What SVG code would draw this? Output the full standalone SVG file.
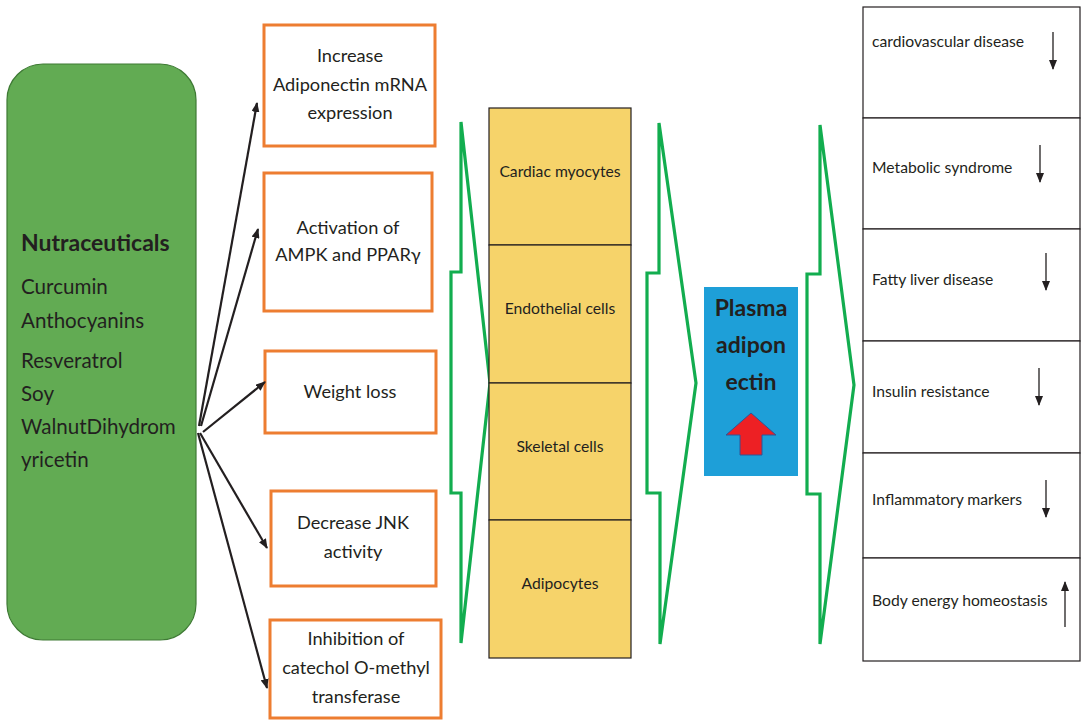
<svg xmlns="http://www.w3.org/2000/svg" width="1081" height="720" viewBox="0 0 1081 720">
<defs>
<style>
text{font-family:Lato,"Open Sans","Liberation Sans",sans-serif;fill:#231F20}
.ob{fill:#fff;stroke:#ED7D31;stroke-width:3}
.ot{font-size:18.2px;text-anchor:middle}
.yc{fill:#F6D36A;stroke:#231F20;stroke-width:1.2}
.yt{font-size:15.7px;text-anchor:middle}
.chev{fill:none;stroke:#12AD4F;stroke-width:3.2;stroke-linejoin:miter}
.tb{fill:#fff;stroke:#231F20;stroke-width:1.2}
.tt{font-size:15.7px}
.conn{stroke:#231F20;stroke-width:2.2;fill:none}
.sa{stroke:#231F20;stroke-width:1.3;fill:none}
.gt{font-size:20.6px}
.pt{font-size:23px;font-weight:bold;text-anchor:middle}
</style>
<marker id="ah" viewBox="0 0 10 8" refX="9" refY="4" markerWidth="10" markerHeight="8" markerUnits="userSpaceOnUse" orient="auto">
<path d="M0,0 L10,4 L0,8 Z" fill="#231F20"/>
</marker>
<marker id="sa" viewBox="0 0 10 8" refX="9" refY="4" markerWidth="10" markerHeight="8" markerUnits="userSpaceOnUse" orient="auto">
<path d="M0,0 L10,4 L0,8 Z" fill="#231F20"/>
</marker>
</defs>
<rect width="1081" height="720" fill="#fff"/>

<g id="nutraceuticals">
<rect x="7" y="64" width="189" height="576" rx="36" ry="36" fill="#62AB53" stroke="#3E7A34" stroke-width="1.2"/>
<text x="21" y="251" font-size="23" font-weight="bold">Nutraceuticals</text>
<text class="gt" x="21" y="294">Curcumin</text>
<text class="gt" x="21" y="328">Anthocyanins</text>
<text class="gt" x="21" y="368">Resveratrol</text>
<text class="gt" x="21" y="401">Soy</text>
<text class="gt" x="21" y="434">WalnutDihydrom</text>
<text class="gt" x="21" y="467">yricetin</text>
</g>

<g id="effect-adiponectin-mrna">
<rect class="ob" x="264" y="25" width="171" height="121"/>
<text class="ot" x="350" y="62">Increase</text>
<text class="ot" x="350" y="91">Adiponectin mRNA</text>
<text class="ot" x="350" y="119">expression</text>
</g>
<g id="effect-ampk">
<rect class="ob" x="264" y="173" width="168" height="138"/>
<text class="ot" x="348" y="234">Activation of</text>
<text class="ot" x="348" y="261">AMPK and PPARγ</text>
</g>
<g id="effect-weight">
<rect class="ob" x="265" y="351" width="171" height="82"/>
<text class="ot" x="350" y="398">Weight loss</text>
</g>
<g id="effect-jnk">
<rect class="ob" x="271" y="491" width="165" height="95"/>
<text class="ot" x="353" y="529">Decrease JNK</text>
<text class="ot" x="353" y="558">activity</text>
</g>
<g id="effect-comt">
<rect class="ob" x="270" y="620" width="171" height="98"/>
<text class="ot" x="356" y="645">Inhibition of</text>
<text class="ot" x="356" y="674">catechol O-methyl</text>
<text class="ot" x="356" y="703">transferase</text>
</g>

<g id="connectors">
<line class="conn" x1="199" y1="426" x2="257" y2="103" marker-end="url(#ah)"/>
<line class="conn" x1="201" y1="426" x2="258" y2="229" marker-end="url(#ah)"/>
<line class="conn" x1="203" y1="432" x2="265" y2="382" marker-end="url(#ah)"/>
<line class="conn" x1="200" y1="433" x2="267" y2="548" marker-end="url(#ah)"/>
<line class="conn" x1="198" y1="433" x2="267" y2="688" marker-end="url(#ah)"/>
<path class="chev" d="M461,122 L490,383 L461,643 L461,493 L451,493 L451,272 L461,272 Z"/>
<path class="chev" d="M659,123 L696,383 L660,644 L660,493 L647,493 L647,273 L659,273 Z"/>
<path class="chev" d="M820,125 L854,385 L820,644 L820,494 L807,494 L807,274 L820,274 Z"/>
</g>

<g id="cells">
<rect class="yc" x="489" y="108" width="142" height="137"/>
<rect class="yc" x="489" y="245" width="142" height="138"/>
<rect class="yc" x="489" y="383" width="142" height="137"/>
<rect class="yc" x="489" y="520" width="142" height="138"/>
<text class="yt" x="560" y="177">Cardiac myocytes</text>
<text class="yt" x="560" y="314">Endothelial cells</text>
<text class="yt" x="560" y="452">Skeletal cells</text>
<text class="yt" x="560" y="589">Adipocytes</text>
</g>

<g id="plasma-adiponectin">
<rect x="704" y="287" width="94" height="189" fill="#1E9FD8"/>
<text class="pt" x="751" y="316">Plasma</text>
<text class="pt" x="751" y="353">adipon</text>
<text class="pt" x="751" y="390">ectin</text>
<path d="M751,413 L776,435 L762,435 L762,455 L740,455 L740,435 L726,435 Z" fill="#ED2024" stroke="#2F5597" stroke-width="1"/>
</g>

<g id="outcomes">
<rect class="tb" x="863" y="7" width="217" height="111"/>
<rect class="tb" x="863" y="118" width="217" height="111"/>
<rect class="tb" x="863" y="229" width="217" height="112"/>
<rect class="tb" x="863" y="341" width="217" height="112"/>
<rect class="tb" x="863" y="453" width="217" height="105"/>
<rect class="tb" x="863" y="558" width="217" height="103"/>
<text class="tt" x="872" y="47">cardiovascular disease</text>
<text class="tt" x="872" y="173">Metabolic syndrome</text>
<text class="tt" x="872" y="285">Fatty liver disease</text>
<text class="tt" x="872" y="397">Insulin resistance</text>
<text class="tt" x="872" y="505">Inflammatory markers</text>
<text class="tt" x="872" y="606">Body energy homeostasis</text>
<line class="sa" x1="1053" y1="32" x2="1053" y2="69" marker-end="url(#sa)"/>
<line class="sa" x1="1040" y1="145" x2="1040" y2="182" marker-end="url(#sa)"/>
<line class="sa" x1="1046" y1="253" x2="1046" y2="290" marker-end="url(#sa)"/>
<line class="sa" x1="1039" y1="368" x2="1039" y2="405" marker-end="url(#sa)"/>
<line class="sa" x1="1046" y1="480" x2="1046" y2="517" marker-end="url(#sa)"/>
<line class="sa" x1="1065" y1="627" x2="1065" y2="582" marker-end="url(#sa)"/>
</g>
</svg>
